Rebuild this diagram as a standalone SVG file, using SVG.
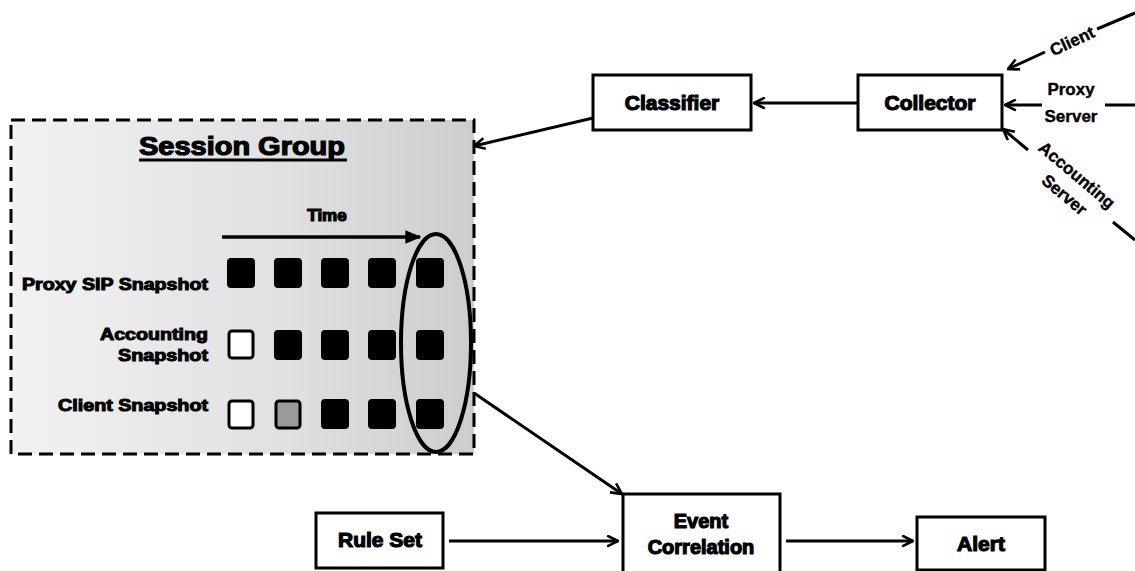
<svg xmlns="http://www.w3.org/2000/svg" width="1135" height="571" viewBox="0 0 1135 571">
<style>
.box{fill:#fff;stroke:#000;stroke-width:3}
.t{font-family:"Liberation Sans",Arial,sans-serif;font-weight:bold;fill:#000;stroke:#000;stroke-width:1.2;text-anchor:middle}
.lbl{font-family:"Liberation Sans",Arial,sans-serif;font-weight:bold;fill:#000;stroke:#000;stroke-width:1;text-anchor:end;font-size:16px}
.in{font-family:"Liberation Sans",Arial,sans-serif;font-weight:bold;fill:#000;stroke:#000;stroke-width:0.4;text-anchor:middle;font-size:17px}
.ln{fill:none;stroke:#000;stroke-width:3}
.sq{fill:#000;stroke:#000;stroke-width:2}
</style>
<defs>
<marker id="open" viewBox="0 0 12 12" refX="11" refY="6" markerWidth="13" markerHeight="13" orient="auto" markerUnits="userSpaceOnUse">
<path d="M1,1 L11,6 L1,11" fill="none" stroke="#000" stroke-width="2.4"/>
</marker>
<marker id="solid" viewBox="0 0 12 12" refX="11" refY="6" markerWidth="16" markerHeight="16" orient="auto" markerUnits="userSpaceOnUse">
<path d="M0,1 L12,6 L0,11 Z" fill="#000"/>
</marker>
<linearGradient id="bg" x1="0" y1="0" x2="1" y2="0">
<stop offset="0" stop-color="#f2f2f2"/>
<stop offset="0.6" stop-color="#e0e0e0"/>
<stop offset="1" stop-color="#cdcdcd"/>
</linearGradient>
</defs>

<g id="session-group">
<rect x="11" y="120" width="463" height="334" fill="url(#bg)" stroke="#000" stroke-width="3" stroke-dasharray="14,7"/>
<text class="t" x="242" y="155" font-size="25" textLength="206" lengthAdjust="spacingAndGlyphs">Session Group</text>
<line x1="139" y1="160" x2="347" y2="160" stroke="#000" stroke-width="3"/>
<text class="t" x="327" y="221" font-size="17" stroke-width="0.8">Time</text>
<line x1="222" y1="237" x2="420" y2="237" stroke="#000" stroke-width="3.5" marker-end="url(#solid)"/>
<text class="lbl" x="208" y="290" textLength="186" lengthAdjust="spacingAndGlyphs">Proxy SIP Snapshot</text>
<text class="lbl" x="208" y="340" textLength="108" lengthAdjust="spacingAndGlyphs">Accounting</text>
<text class="lbl" x="208" y="361" textLength="90" lengthAdjust="spacingAndGlyphs">Snapshot</text>
<text class="lbl" x="208" y="411" textLength="150" lengthAdjust="spacingAndGlyphs">Client Snapshot</text>
<rect class="sq" x="228" y="259" width="26" height="28" rx="3"/>
<rect class="sq" x="275" y="259" width="26" height="28" rx="3"/>
<rect class="sq" x="322" y="259" width="26" height="28" rx="3"/>
<rect class="sq" x="369" y="259" width="26" height="28" rx="3"/>
<rect class="sq" x="417" y="259" width="26" height="28" rx="3"/>
<rect x="229" y="331" width="24" height="27" rx="3" fill="#fff" stroke="#000" stroke-width="3"/>
<rect class="sq" x="275" y="331" width="26" height="28" rx="3"/>
<rect class="sq" x="322" y="331" width="26" height="28" rx="3"/>
<rect class="sq" x="369" y="331" width="26" height="28" rx="3"/>
<rect class="sq" x="417" y="331" width="26" height="28" rx="3"/>
<rect x="229" y="401" width="24" height="27" rx="3" fill="#fff" stroke="#000" stroke-width="3"/>
<rect x="276" y="401" width="24" height="27" rx="3" fill="#9a9a9a" stroke="#000" stroke-width="3"/>
<rect class="sq" x="322" y="400" width="26" height="28" rx="3"/>
<rect class="sq" x="369" y="400" width="26" height="28" rx="3"/>
<rect class="sq" x="417" y="400" width="26" height="28" rx="3"/>
<ellipse cx="436" cy="343" rx="35" ry="109" fill="none" stroke="#000" stroke-width="4"/>
</g>

<g id="classifier">
<rect class="box" x="593" y="75" width="158" height="55"/>
<text class="t" x="672" y="110" font-size="21">Classifier</text>
</g>
<g id="collector">
<rect class="box" x="858" y="75" width="144" height="55"/>
<text class="t" x="930" y="110" font-size="21">Collector</text>
</g>
<g id="rule-set">
<rect class="box" x="316" y="513" width="127" height="55"/>
<text class="t" x="380" y="547" font-size="21">Rule Set</text>
</g>
<g id="event-correlation">
<rect class="box" x="623" y="494" width="157" height="90"/>
<text class="t" x="701" y="528" font-size="20">Event</text>
<text class="t" x="701" y="554" font-size="20">Correlation</text>
</g>
<g id="alert">
<rect class="box" x="917" y="517" width="128" height="53"/>
<text class="t" x="981" y="551" font-size="21">Alert</text>
</g>

<g id="inputs">
<text class="in" transform="translate(1072,41) rotate(-25)" y="6">Client</text>
<text class="in" x="1071" y="95">Proxy</text>
<text class="in" x="1071" y="122">Server</text>
<g transform="translate(1077,175) rotate(40)">
<text class="in" x="0" y="6">Accounting</text>
<text class="in" x="3" y="29">Server</text>
</g>
</g>

<g id="connectors">
<line class="ln" x1="858" y1="103" x2="754" y2="103" stroke-width="2.5" marker-end="url(#open)"/>
<line class="ln" x1="593" y1="118" x2="474" y2="146" stroke-width="4" marker-end="url(#open)"/>
<line class="ln" x1="474" y1="393" x2="622" y2="494" stroke-width="3.5" marker-end="url(#open)"/>
<line class="ln" x1="449" y1="541" x2="618" y2="541" marker-end="url(#open)"/>
<line class="ln" x1="786" y1="541" x2="913" y2="541" marker-end="url(#open)"/>
<line class="ln" x1="1135" y1="13" x2="1097" y2="29" stroke-width="2.5"/>
<line class="ln" x1="1045" y1="52" x2="1008" y2="69" stroke-width="2.5" marker-end="url(#open)"/>
<line class="ln" x1="1135" y1="105" x2="1105" y2="105" stroke-width="2.5"/>
<line class="ln" x1="1042" y1="105" x2="1005" y2="105" stroke-width="2.5" marker-end="url(#open)"/>
<line class="ln" x1="1135" y1="240" x2="1113" y2="222" stroke-width="2.5"/>
<line class="ln" x1="1028" y1="150" x2="1003" y2="129" stroke-width="2.5" marker-end="url(#open)"/>
</g>
</svg>
